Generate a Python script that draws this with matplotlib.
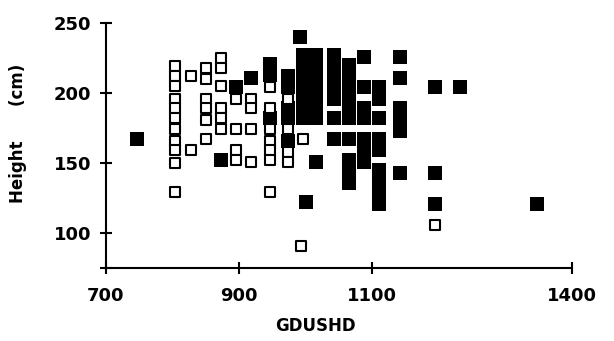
import matplotlib.pyplot as plt

# open squares (white)
open_gdushd = [804, 804, 804, 804, 804, 804, 804, 804, 804, 804, 804,
               828, 828,
               850, 850, 850, 850, 850, 850,
               873, 873, 873, 873, 873, 873,
               895, 895, 895, 895,
               918, 918, 918, 918,
               946, 946, 946, 946, 946, 946, 946,
               973, 973, 973, 973,
               996, 993, 1194]
open_height = [219, 212, 205, 196, 189, 182, 174, 166, 159, 150, 129,
               212, 159,
               218, 210, 196, 189, 181, 167,
               225, 218, 205, 189, 182, 174,
               196, 174, 159, 152,
               196, 189, 174, 151,
               204, 189, 174, 166, 159, 152, 129,
               196, 174, 158, 151,
               167, 91, 106]

# filled squares (black)
filled_gdushd = [747, 873, 895, 918,
                 946, 946, 946,
                 973, 973, 973, 973, 973,
                 991,
                 996, 996, 996, 996, 996, 996, 996, 1000,
                 1015, 1015, 1015, 1015, 1015, 1015, 1015, 1015,
                 1042, 1042, 1042, 1042, 1042, 1042, 1042,
                 1065, 1065, 1065, 1065, 1065, 1065, 1065, 1065, 1065, 1065,
                 1087, 1087, 1087, 1087, 1087, 1087, 1087,
                 1110, 1110, 1110, 1110, 1110, 1110, 1110, 1110, 1110,
                 1141, 1141, 1141, 1141, 1141, 1141,
                 1194, 1194, 1194, 1232, 1347]
filled_height = [167, 152, 204, 211,
                 221, 213, 182,
                 212, 204, 189, 182, 166,
                 240,
                 227, 220, 212, 204, 196, 189, 182, 122,
                 227, 220, 212, 204, 196, 189, 182, 151,
                 227, 220, 212, 204, 196, 182, 167,
                 220, 212, 204, 196, 189, 182, 167, 152, 145, 136,
                 226, 204, 189, 182, 167, 159, 151,
                 204, 196, 182, 167, 159, 145, 136, 128, 121,
                 226, 211, 189, 181, 173, 143,
                 204, 143, 121, 204, 121]

x_ticks = [700, 900, 1100, 1400]
y_ticks = [75, 100, 150, 200, 250]
y_labels = ["", "100", "150", "200", "250"]

plt.rcParams['font.family'] = 'DejaVu Sans'

fig = plt.figure(figsize=(6.14, 3.41), dpi=100)
ax = fig.add_axes([106/614, 73/341, 466/614, 245/341])

ax.scatter(filled_gdushd, filled_height, marker='s', s=100, c='black',
           linewidths=0, clip_on=False, zorder=2)
ax.scatter(open_gdushd, open_height, marker='s', s=52, facecolors='white',
           edgecolors='black', linewidths=1.5, clip_on=False, zorder=3)

ax.set_xlim(700, 1400)
ax.set_ylim(75, 250)
ax.set_xticks(x_ticks)
ax.set_xticklabels([str(v) for v in x_ticks], fontsize=13, fontweight='bold')
ax.set_yticks(y_ticks)
ax.set_yticklabels(y_labels, fontsize=13, fontweight='bold')

for side in ['top', 'right']:
  ax.spines[side].set_visible(False)
for side in ['left', 'bottom']:
  ax.spines[side].set_linewidth(1.5)
ax.tick_params(direction='inout', length=9, width=1.5, pad=6)
ax.tick_params(axis='x', pad=9)

ax.set_xlabel("GDUSHD", fontsize=12, fontweight='bold')
ax.xaxis.set_label_coords(0.45, -0.2)
ax.set_ylabel("Height      (cm)", fontsize=12, fontweight='bold')
ax.yaxis.set_label_coords(-0.17, 0.55)

fig.savefig("out.png", dpi=100)
